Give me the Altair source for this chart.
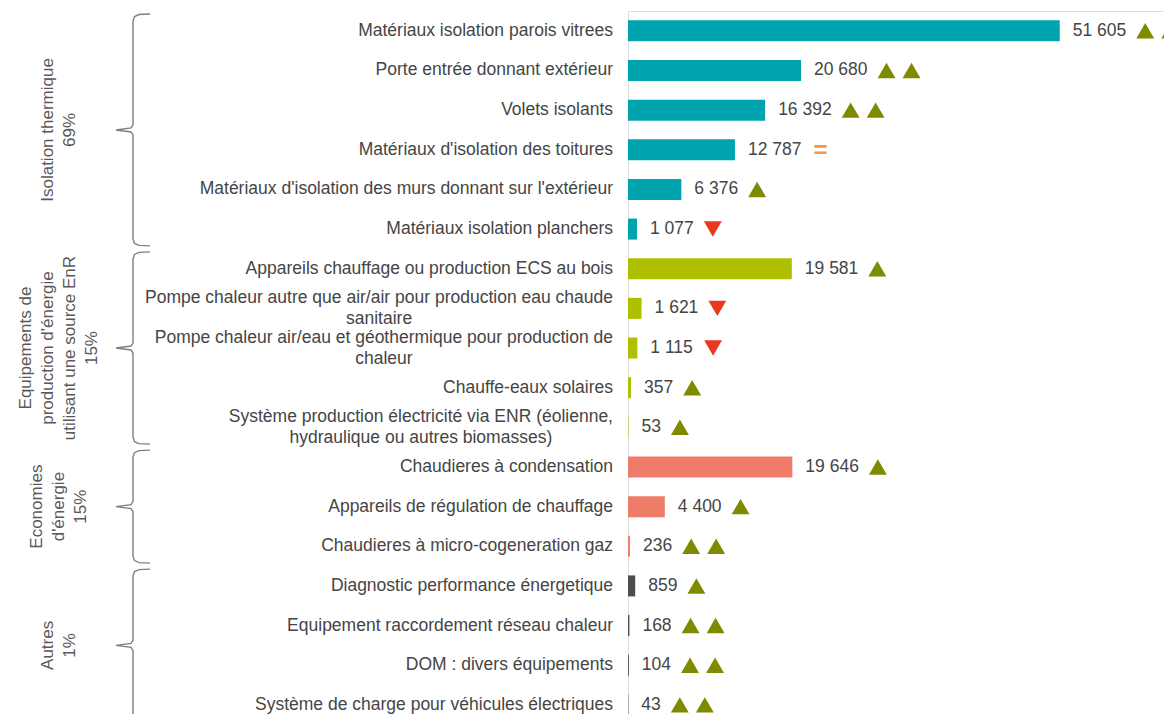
import unicodedata
import altair as alt
import pandas as pd

# ---------------- data ----------------
categories = [
    "Matériaux isolation parois vitrees",
    "Porte entrée donnant extérieur",
    "Volets isolants",
    "Matériaux d'isolation des toitures",
    "Matériaux d'isolation des murs donnant sur l'extérieur",
    "Matériaux isolation planchers",
    "Appareils chauffage ou production ECS au bois",
    "Pompe chaleur autre que air/air pour production eau chaude\nsanitaire",
    "Pompe chaleur air/eau et géothermique pour production de\nchaleur",
    "Chauffe-eaux solaires",
    "Système production électricité via ENR (éolienne,\nhydraulique ou autres biomasses)",
    "Chaudieres à condensation",
    "Appareils de régulation de chauffage",
    "Chaudieres à micro-cogeneration gaz",
    "Diagnostic performance énergetique",
    "Equipement raccordement réseau chaleur",
    "DOM : divers équipements",
    "Système de charge pour véhicules électriques",
]
values = [51605, 20680, 16392, 12787, 6376, 1077, 19581, 1621, 1115, 357, 53,
          19646, 4400, 236, 859, 168, 104, 43]
trends = ["▲▲", "▲▲", "▲▲", "=", "▲", "▼", "▲", "▼", "▼", "▲", "▲",
          "▲", "▲", "▲▲", "▲", "▲▲", "▲▲", "▲▲"]
group_names = [
    "Isolation thermique\n69%",
    "Equipements de\nproduction d'énergie\nutilisant une source EnR\n15%",
    "Economies\nd'énergie\n15%",
    "Autres\n1%",
]
group_sizes = [6, 5, 3, 4]
group_colors = ["#00A4AF", "#AFC000", "#EF7B69", "#4D4D4D"]

# ---------------- layout constants ----------------
W, H = 536, 703
XMAX = 64070
STEP = 39.65
Y_DOMAIN = [-0.5, -0.5 + H / STEP]
FS = 17.5
LH = 21
GLH = 22
LABEL_DX = 13
px_per_unit = W / XMAX
TEXT_COLOR = "#454545"

# Arial / Liberation Sans advance widths (em)
CHAR_EM = {}
for chars, w in [("'", 0.191), ("ijl", 0.222), (" !,./:;ftI\u00a0", 0.278),
                 ("()-r", 0.333), ("cksvxyzJ", 0.5),
                 ("0123456789abdeghnopquL", 0.556), ("FTZ", 0.611),
                 ("ABEKPSVXY", 0.667), ("CDHNRUw", 0.722), ("GOQ", 0.778),
                 ("mM", 0.833), ("W", 0.944)]:
    for c in chars:
        CHAR_EM[c] = w


def em_width(s):
    return sum(CHAR_EM.get(unicodedata.normalize("NFD", ch)[0], 0.556) for ch in s)


# category label lines: block right-aligned, lines centred within the block
lab_rows = []
for i, cat in enumerate(categories):
    lines = cat.split("\n")
    n = len(lines)
    wmax = max(em_width(l) for l in lines) * FS
    for j, l in enumerate(lines):
        w = em_width(l) * FS
        lab_rows.append({
            "txt": l,
            "lx": -15 - (wmax - w) / 2,
            "ly": i + (j - (n - 1) / 2) * LH / STEP,
        })
df_lab = pd.DataFrame(lab_rows)

# group of each row
row_group = []
for g, n in zip(group_names, group_sizes):
    row_group += [g] * n

vlabels = [f"{v:,}".replace(",", " ") for v in values]
df = pd.DataFrame({
    "row": list(range(len(categories))),
    "value": values,
    "vlabel": vlabels,
    "group": row_group,
})

# trend markers placed after the value label
tri_rows, eq_rows = [], []
for i, (v, lab, tr) in enumerate(zip(values, vlabels, trends)):
    lw = em_width(lab) * FS
    for k, sym in enumerate(tr):
        tx = v + (LABEL_DX + lw + 19 + 25 * k) / px_per_unit
        if sym == "=":
            eq_rows.append({"row": i, "tx": tx})
        else:
            tri_rows.append({"row": i, "tx": tx, "kind": "up" if sym == "▲" else "down"})
df_tri = pd.DataFrame(tri_rows)
df_eq = pd.DataFrame(eq_rows)

# braces and group labels (left decorations, pixel x offsets from plot origin)
brace_rows, glabel_rows = [], []
start = 0
u = 1 / STEP
GX = -569
for g, n in zip(group_names, group_sizes):
    top = start - 0.5 + 3 * u
    bot = start + n - 0.5 - 3 * u
    mid = (top + bot) / 2
    pts = [(-478, top), (-489, top + 0.5 * u), (-493.5, top + 2.5 * u), (-495, top + 7 * u),
           (-495, mid - 5 * u), (-497, mid - 2 * u), (-512, mid), (-497, mid + 2 * u),
           (-495, mid + 5 * u), (-495, bot - 7 * u), (-493.5, bot - 2.5 * u),
           (-489, bot - 0.5 * u), (-478, bot)]
    for j, (bx, by) in enumerate(pts):
        brace_rows.append({"g": g, "i": j, "bx": bx, "by": by})
    glines = g.split("\n")
    m = len(glines)
    for j, l in enumerate(glines):
        glabel_rows.append({"txt": l, "gx": GX + (j - (m - 1) / 2) * GLH, "gy": mid})
    start += n
df_brace = pd.DataFrame(brace_rows)
df_glab = pd.DataFrame(glabel_rows)

# ---------------- encodings ----------------
yscale = alt.Scale(domain=Y_DOMAIN, reverse=True, nice=False, zero=False, padding=0)
xscale = alt.Scale(domain=[0, XMAX], nice=False, zero=True, padding=0)
yaxis = alt.Axis(labels=False, ticks=False, grid=False, domain=True,
                 domainColor="#d9d9d9", domainWidth=2, title=None)
yenc = alt.Y("row:Q", scale=yscale, axis=yaxis)

bars = alt.Chart(df).mark_bar(orient="horizontal", size=21).encode(
    x=alt.X("value:Q", scale=xscale, axis=None),
    x2=alt.datum(0),
    y=yenc,
    color=alt.Color("group:N", scale=alt.Scale(domain=group_names, range=group_colors), legend=None),
)

vtext = alt.Chart(df).mark_text(align="left", baseline="middle", dx=LABEL_DX, fontSize=FS,
                                font="Liberation Sans", color=TEXT_COLOR).encode(
    x=alt.X("value:Q", scale=xscale, axis=None),
    y=yenc,
    text="vlabel:N",
)

cat_text = alt.Chart(df_lab).mark_text(align="right", baseline="middle", fontSize=FS,
                                       font="Liberation Sans", color=TEXT_COLOR).encode(
    x=alt.X("lx:Q", scale=None),
    y=alt.Y("ly:Q", scale=yscale, axis=None),
    text="txt:N",
)

tris = alt.Chart(df_tri).mark_point(filled=True, size=320, opacity=1).encode(
    x=alt.X("tx:Q", scale=xscale, axis=None),
    y=yenc,
    shape=alt.Shape("kind:N", scale=alt.Scale(domain=["up", "down"], range=["triangle-up", "triangle-down"]), legend=None),
    color=alt.Color("kind:N", scale=alt.Scale(domain=["up", "down"], range=["#7E8A00", "#E8391F"]), legend=None),
)

eqs = alt.Chart(df_eq).mark_text(text="=", align="center", baseline="middle", fontSize=24,
                                 fontWeight="bold", font="Liberation Sans", color="#F79646", dy=1).encode(
    x=alt.X("tx:Q", scale=xscale, axis=None),
    y=yenc,
)

braces = alt.Chart(df_brace).mark_line(color="#7f7f7f", strokeWidth=1.4).encode(
    x=alt.X("bx:Q", scale=None),
    y=alt.Y("by:Q", scale=yscale, axis=None),
    detail="g:N",
    order="i:Q",
)

glabels = alt.Chart(df_glab).mark_text(angle=270, align="center", baseline="middle",
                                       fontSize=17, font="Liberation Sans",
                                       color="#595959").encode(
    x=alt.X("gx:Q", scale=None),
    y=alt.Y("gy:Q", scale=yscale, axis=None),
    text="txt:N",
)

chart = alt.layer(bars, vtext, cat_text, tris, eqs, braces, glabels).resolve_scale(
    color="independent", shape="independent"
).properties(
    width=W, height=H,
    autosize=alt.AutoSizeParams(type="none"),
    padding={"left": 620, "top": 3, "right": 0, "bottom": 0},
).configure_view(stroke=None).configure(background="white")

chart.save("out.html", embed_options={"renderer": "svg", "actions": False})
